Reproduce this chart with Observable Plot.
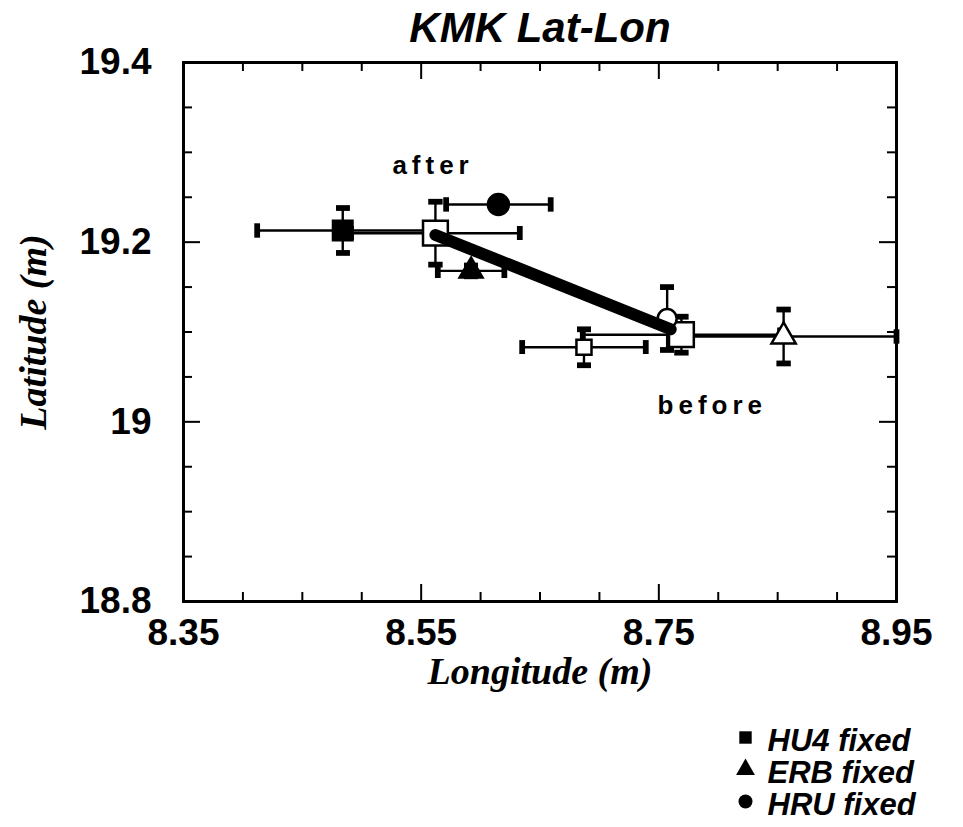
<!DOCTYPE html>
<html><head><meta charset="utf-8">
<script src="https://cdn.jsdelivr.net/npm/d3@7"></script>
<script src="https://cdn.jsdelivr.net/npm/@observablehq/plot@0.6"></script>
<style>body{margin:0;background:#fff} svg{display:block}</style>
</head><body><div id="chart"></div>
<script>
// ---- data ----
const xTickLabels = [8.35, 8.55, 8.75, 8.95];
const xMinorTicks = [8.40, 8.45, 8.50, 8.60, 8.65, 8.70, 8.80, 8.85, 8.90];
const yTickLabels = [18.8, 19.0, 19.2, 19.4];
const yMinorTicks = [18.85, 18.90, 18.95, 19.05, 19.10, 19.15, 19.25, 19.30, 19.35];

// filled markers: solutions with one station fixed
const fixedNames   = ["HU4 fixed", "ERB fixed", "HRU fixed"];
const fixedSymbols = ["square", "triangle", "circle"];
const fixedLon     = [8.484, 8.592, 8.615];
const fixedLat     = [19.213, 19.168, 19.242];
const fixedLonErr  = [0.072, 0.028, 0.044];
const fixedLatErr  = [0.025, 0.006, 0];

// open markers
const openNames   = ["free after", "free before", "HU4 before", "ERB before", "HRU before"];
const openSymbols = ["square", "square", "square", "triangle", "circle"];
const openLon     = [8.562, 8.769, 8.687, 8.855, 8.757];
const openLat     = [19.210, 19.097, 19.083, 19.095, 19.115];
const openLonErr  = [0.071, 0.083, 0.052, 0.095, 0];
const openLatErr  = [0.035, 0.020, 0.020, 0.030, 0.035];

// shift path (after -> before)
const shiftLon = [8.562, 8.760];
const shiftLat = [19.208, 19.103];

// annotations
const noteText = ["after", "before"];
const noteLon  = [8.560, 8.795];
const noteLat  = [19.285, 19.018];

const titleText = "KMK Lat-Lon";
const xLabel = "Longitude (m)";
const yLabel = "Latitude (m)";

// ---- build ----
const fixed = fixedNames.map((name, i) => ({name, symbol: fixedSymbols[i], lon: fixedLon[i], lat: fixedLat[i], lonErr: fixedLonErr[i], latErr: fixedLatErr[i]}));
const open = openNames.map((name, i) => ({name, symbol: openSymbols[i], lon: openLon[i], lat: openLat[i], lonErr: openLonErr[i], latErr: openLatErr[i]}));
const all = [...fixed, ...open];
const shift = shiftLon.map((lon, i) => ({lon, lat: shiftLat[i]}));
const notes = noteText.map((t, i) => ({t, lon: noteLon[i], lat: noteLat[i]}));

const markerR = {"HU4 fixed": 11, "ERB fixed": 8.5, "HRU fixed": 10.5, "free after": 14, "free before": 14, "HU4 before": 8.5, "ERB before": 9, "HRU before": 9.5};

const W = 963, H = 827, mL = 183, mR = 67, mT = 62, mB = 226;
const plotW = W - mL - mR, plotH = H - mT - mB;
const sans = "'Liberation Sans', Arial, Helvetica, sans-serif";
const serif = "'Liberation Serif', 'Times New Roman', serif";

const dotMarks = (arr, fill) => arr.map(d => Plot.dot([d], {x: "lon", y: "lat", symbol: d.symbol, r: markerR[d.name], fill, stroke: "black", strokeWidth: 2.5}));

const legendMarks = fixedNames.flatMap((name, i) => [
  Plot.dot([name], {frameAnchor: "bottom-right", dx: -151, dy: 136 + i * 32, symbol: fixedSymbols[i], r: 7, fill: "black", stroke: "none"}),
  Plot.text([name], {frameAnchor: "bottom-right", dx: -129, dy: 149 + i * 32, text: d => d, textAnchor: "start", lineAnchor: "bottom", fontSize: 31, fontWeight: "bold", fontStyle: "italic", fontFamily: sans, fill: "black"})
]);

const chart = Plot.plot({
  width: W, height: H,
  marginLeft: mL, marginRight: mR, marginTop: mT, marginBottom: mB,
  x: {domain: [8.35, 8.95]},
  y: {domain: [18.8, 19.4]},
  style: {background: "white", color: "black", overflow: "visible"},
  marks: [
    // inward ticks on all sides
    Plot.tickX(xMinorTicks, {x: d => d, insetTop: plotH - 9, strokeWidth: 2}),
    Plot.tickX(xMinorTicks, {x: d => d, insetBottom: plotH - 9, strokeWidth: 2}),
    Plot.tickX(xTickLabels, {x: d => d, insetTop: plotH - 17, strokeWidth: 2}),
    Plot.tickX(xTickLabels, {x: d => d, insetBottom: plotH - 17, strokeWidth: 2}),
    Plot.tickY(yMinorTicks, {y: d => d, insetRight: plotW - 9, strokeWidth: 2}),
    Plot.tickY(yMinorTicks, {y: d => d, insetLeft: plotW - 9, strokeWidth: 2}),
    Plot.tickY(yTickLabels, {y: d => d, insetRight: plotW - 17, strokeWidth: 2}),
    Plot.tickY(yTickLabels, {y: d => d, insetLeft: plotW - 17, strokeWidth: 2}),
    Plot.frame({stroke: "black", strokeWidth: 3}),
    Plot.axisX(xTickLabels, {tickSize: 0, tickPadding: 17, tickFormat: d => d.toFixed(2), fontSize: 37, fontWeight: "bold", fontFamily: sans, label: null}),
    Plot.axisY(yTickLabels, {tickSize: 0, tickPadding: 32, tickFormat: d => String(+d.toFixed(1)), fontSize: 37, fontWeight: "bold", fontFamily: sans, label: null}),
    // error bars
    Plot.link(all.filter(d => d.lonErr > 0), {x1: d => d.lon - d.lonErr, x2: d => d.lon + d.lonErr, y1: "lat", y2: "lat", stroke: "black", strokeWidth: 2.4, markerStart: "tick", markerEnd: "tick"}),
    Plot.link(all.filter(d => d.latErr > 0), {x1: "lon", x2: "lon", y1: d => d.lat - d.latErr, y2: d => d.lat + d.latErr, stroke: "black", strokeWidth: 2.4, markerStart: "tick", markerEnd: "tick"}),
    ...dotMarks(open, "white"),
    Plot.line(shift, {x: "lon", y: "lat", stroke: "black", strokeWidth: 12}),
    ...dotMarks(fixed, "black"),
    Plot.text(notes, {x: "lon", y: "lat", text: "t", fontSize: 26, fontWeight: "bold", fontFamily: sans, fill: "black"}),
    // title and axis labels
    Plot.text([titleText], {frameAnchor: "top", dy: -21, text: d => d, lineAnchor: "bottom", fontSize: 42, fontWeight: "bold", fontStyle: "italic", fontFamily: sans, fill: "black"}),
    Plot.text([xLabel], {frameAnchor: "bottom", dy: 82, text: d => d, lineAnchor: "bottom", fontSize: 38, fontWeight: "bold", fontStyle: "italic", fontFamily: serif, fill: "black"}),
    Plot.text([yLabel], {frameAnchor: "left", dx: -150, text: d => d, rotate: -90, textAnchor: "middle", lineAnchor: "middle", fontSize: 38, fontWeight: "bold", fontStyle: "italic", fontFamily: serif, fill: "black"}),
    ...legendMarks
  ]
});
d3.select(chart).selectAll("text").filter(function () { return noteText.includes(this.textContent); }).attr("letter-spacing", 5);
document.getElementById("chart").appendChild(chart);
</script>
</body></html>
